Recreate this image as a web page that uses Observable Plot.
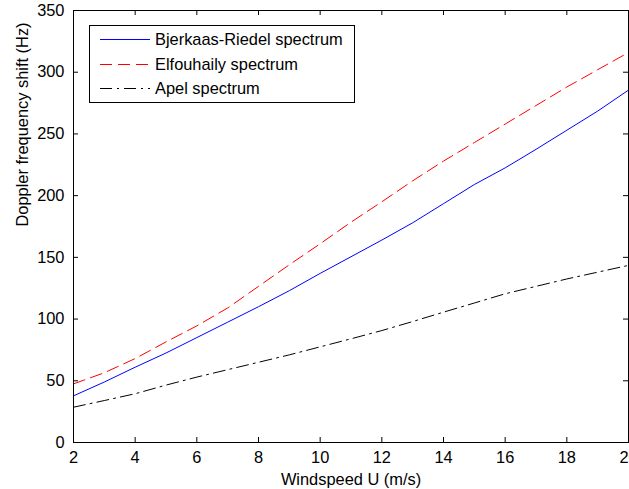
<!DOCTYPE html>
<html>
<head>
<meta charset="utf-8">
<script src="https://cdn.jsdelivr.net/npm/d3@7"></script>
<script src="https://cdn.jsdelivr.net/npm/@observablehq/plot@0.6"></script>
<style>
  html, body { margin: 0; padding: 0; background: white; }
  #wrap { position: relative; width: 629px; height: 489px; overflow: hidden; }
  #legend { position: absolute; left: 89px; top: 25px; }
</style>
</head>
<body>
<div id="wrap"></div>
<script>
const windspeed = [2,3,4,5,6,7,8,9,10,11,12,13,14,15,16,17,18,19,20];
const bjerkaas  = [37.8,49,61,72.5,85,97.5,110,123,137,150.5,164,178,193.5,209,222.5,237.5,253,268.5,285.5];
const elfouhaily= [47.5,56.5,68,81.5,94.5,109,126.5,144,161,178.5,195,212,228,243,258,273,288,302,316];
const apel      = [28.6,34,39.5,46.5,53,59,65,71,77.5,84,90.7,98,105.6,113,120.5,126.5,132.5,138,143.5];
const xTicks = [2,4,6,8,10,12,14,16,18,20];
const yTicks = [0,50,100,150,200,250,300,350];
const seriesNames = ["Bjerkaas-Riedel spectrum","Elfouhaily spectrum","Apel spectrum"];
const seriesColors = ["#0000ff","#ff0000","#000000"];
const seriesDash = [null,"12,6","12,5,2,5"];
const xLabel = "Windspeed U (m/s)";
const yLabel = "Doppler frequency shift (Hz)";

const seriesValues = [bjerkaas, elfouhaily, apel];
const lines = seriesValues.map((vals, i) =>
  Plot.line(windspeed.map((w, j) => ({x: w, y: vals[j]})), {
    x: "x", y: "y", stroke: seriesColors[i], strokeWidth: 1,
    strokeDasharray: seriesDash[i] || undefined
  })
);

const W = 629, H = 489, mL = 73, mR = 1, mT = 10, mB = 47;
const pw = W - mL - mR, ph = H - mT - mB;
const tl = 5;
const FS = 16.4;

const chart = Plot.plot({
  width: W, height: H,
  marginLeft: mL, marginRight: mR, marginTop: mT, marginBottom: mB,
  style: {fontFamily: "'Liberation Sans', Arial, sans-serif", fontSize: FS + "px", color: "black", background: "white"},
  x: {domain: [2, 20], ticks: xTicks},
  y: {domain: [0, 350], ticks: yTicks},
  marks: [
    ...lines,
    Plot.tickX(xTicks, {x: d => d, stroke: "black", insetTop: ph - tl}),
    Plot.tickX(xTicks, {x: d => d, stroke: "black", insetBottom: ph - tl}),
    Plot.tickY(yTicks, {y: d => d, stroke: "black", insetRight: pw - tl}),
    Plot.tickY(yTicks, {y: d => d, stroke: "black", insetLeft: pw - tl}),
    Plot.frame({stroke: "black"}),
    Plot.axisX(xTicks, {tickSize: 0, tickPadding: 9, label: null, fontSize: FS}),
    Plot.axisY(yTicks, {tickSize: 0, tickPadding: 9, label: null, fontSize: FS}),
    Plot.text([xLabel], {frameAnchor: "bottom", lineAnchor: "top", dy: 31, fontSize: FS, fill: "black"}),
    Plot.text([yLabel], {frameAnchor: "left", rotate: -90, dx: -51, fontSize: FS, fill: "black"})
  ]
});
document.getElementById("wrap").appendChild(chart);

// legend
const lg = d3.create("svg").attr("id", "legend").attr("width", 267).attr("height", 79)
  .style("font-family", "'Liberation Sans', Arial, sans-serif").style("font-size", FS + "px");
lg.append("rect").attr("x", 0.5).attr("y", 0.5).attr("width", 265).attr("height", 77)
  .attr("fill", "white").attr("stroke", "black");
const rowY = [14.5, 39.5, 63.5];
seriesNames.forEach((name, i) => {
  const l = lg.append("line").attr("x1", 11).attr("x2", 61).attr("y1", rowY[i]).attr("y2", rowY[i])
    .attr("stroke", seriesColors[i]).attr("stroke-width", 1);
  if (seriesDash[i]) l.attr("stroke-dasharray", seriesDash[i]);
  lg.append("text").attr("x", 66).attr("y", rowY[i]).attr("dy", "0.35em").text(name);
});
document.getElementById("wrap").appendChild(lg.node());
</script>
</body>
</html>
